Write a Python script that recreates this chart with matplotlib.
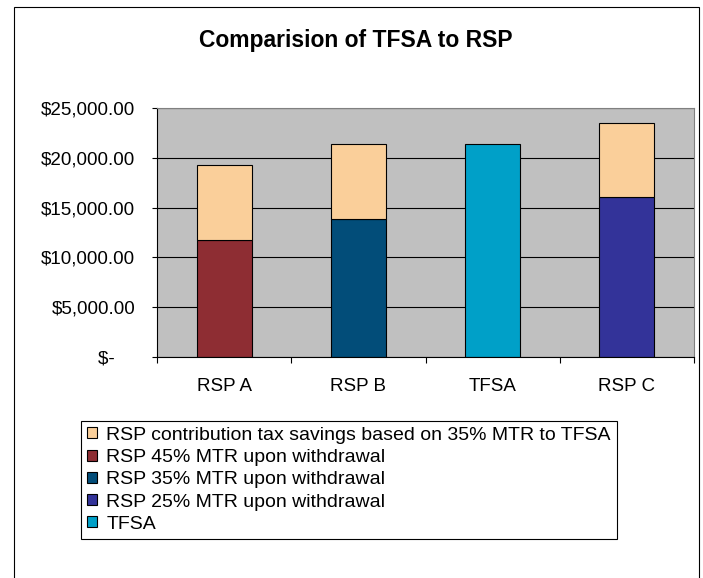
import numpy as np
import matplotlib.pyplot as plt
from matplotlib.patches import Rectangle
from matplotlib.ticker import FuncFormatter

plt.rcParams['font.family'] = ['Liberation Sans', 'DejaVu Sans']

# values
categories = ['RSP A', 'RSP B', 'TFSA', 'RSP C']
savings = [7500, 7500, 0, 7450]          # RSP contribution tax savings
rsp_45 = [11750, 0, 0, 0]
rsp_35 = [0, 13850, 0, 0]
rsp_25 = [0, 0, 0, 16050]
tfsa = [0, 0, 21400, 0]

series_names = ['RSP 45% MTR upon withdrawal', 'RSP 35% MTR upon withdrawal',
                'RSP 25% MTR upon withdrawal', 'TFSA']
series_vals = [rsp_45, rsp_35, rsp_25, tfsa]
series_cols = ['#8E2D33', '#024D79', '#333399', '#00A0C8']
sav_name = 'RSP contribution tax savings based on 35% MTR to TFSA'
sav_col = '#FACF9A'

fig = plt.figure(figsize=(7.03, 5.78), dpi=100)
ax = fig.add_axes([157/703, 1-357/578, (694-157)/703, (357-108)/578])
ax.set_facecolor('#C0C0C0')

x = np.arange(len(categories))
w = 0.41
handles = {}
base = np.zeros(len(categories))
for name, vals, col in zip(series_names, series_vals, series_cols):
    idx = [i for i, v in enumerate(vals) if v > 0]
    b = ax.bar(x[idx], [vals[i] for i in idx], w, color=col, edgecolor='black', linewidth=0.8)
    handles[name] = b
    base += np.array(vals)
idx = [i for i, v in enumerate(savings) if v > 0]
handles[sav_name] = ax.bar(x[idx], [savings[i] for i in idx], w, bottom=base[idx],
                           color=sav_col, edgecolor='black', linewidth=0.8)

ax.set_xlim(-0.5, len(categories) - 0.5)
ax.set_ylim(0, 25000)
ax.set_yticks(np.arange(0, 25001, 5000))
ax.yaxis.set_major_formatter(FuncFormatter(lambda v, p: '$-    ' if v == 0 else '${:,.2f}'.format(v)))
ax.set_axisbelow(True)
ax.yaxis.grid(True, color='black', linewidth=0.8)
ax.set_xticks(x)
ax.set_xticklabels(categories)
ax.set_xticks(np.arange(-0.5, len(categories)), minor=True)
ax.tick_params(axis='x', which='major', length=0, pad=15, labelsize=13.5)
ax.tick_params(axis='x', which='minor', length=4.5, width=0.8, direction='out')
ax.tick_params(axis='y', length=3.6, width=0.8, pad=12, labelsize=13.5)
for s in ['left', 'bottom']:
    ax.spines[s].set_color('black')
    ax.spines[s].set_linewidth(0.8)
for s in ['top', 'right']:
    ax.spines[s].set_color('#808080')
    ax.spines[s].set_linewidth(0.8)

fig.text(356/703, 1-46.7/578, 'Comparision of TFSA to RSP', ha='center', va='baseline',
         fontsize=16.5, fontweight='bold')

order = [sav_name] + series_names
leg = fig.legend([handles[n] for n in order], order, loc='upper left',
                 bbox_to_anchor=(81/703, 1-421/578), fontsize=14, frameon=True,
                 fancybox=False, edgecolor='black', framealpha=1,
                 handlelength=0.5, handleheight=0.5, handletextpad=0.5,
                 labelspacing=0.27, borderpad=0.3, borderaxespad=0)
leg.get_frame().set_linewidth(0.8)

# chart border
fig.patches.append(Rectangle((14/703, -0.05), (699-14)/703, 1.05-7/578, transform=fig.transFigure,
                             fill=False, edgecolor='black', linewidth=0.8))

fig.savefig('out.png', dpi=100)
